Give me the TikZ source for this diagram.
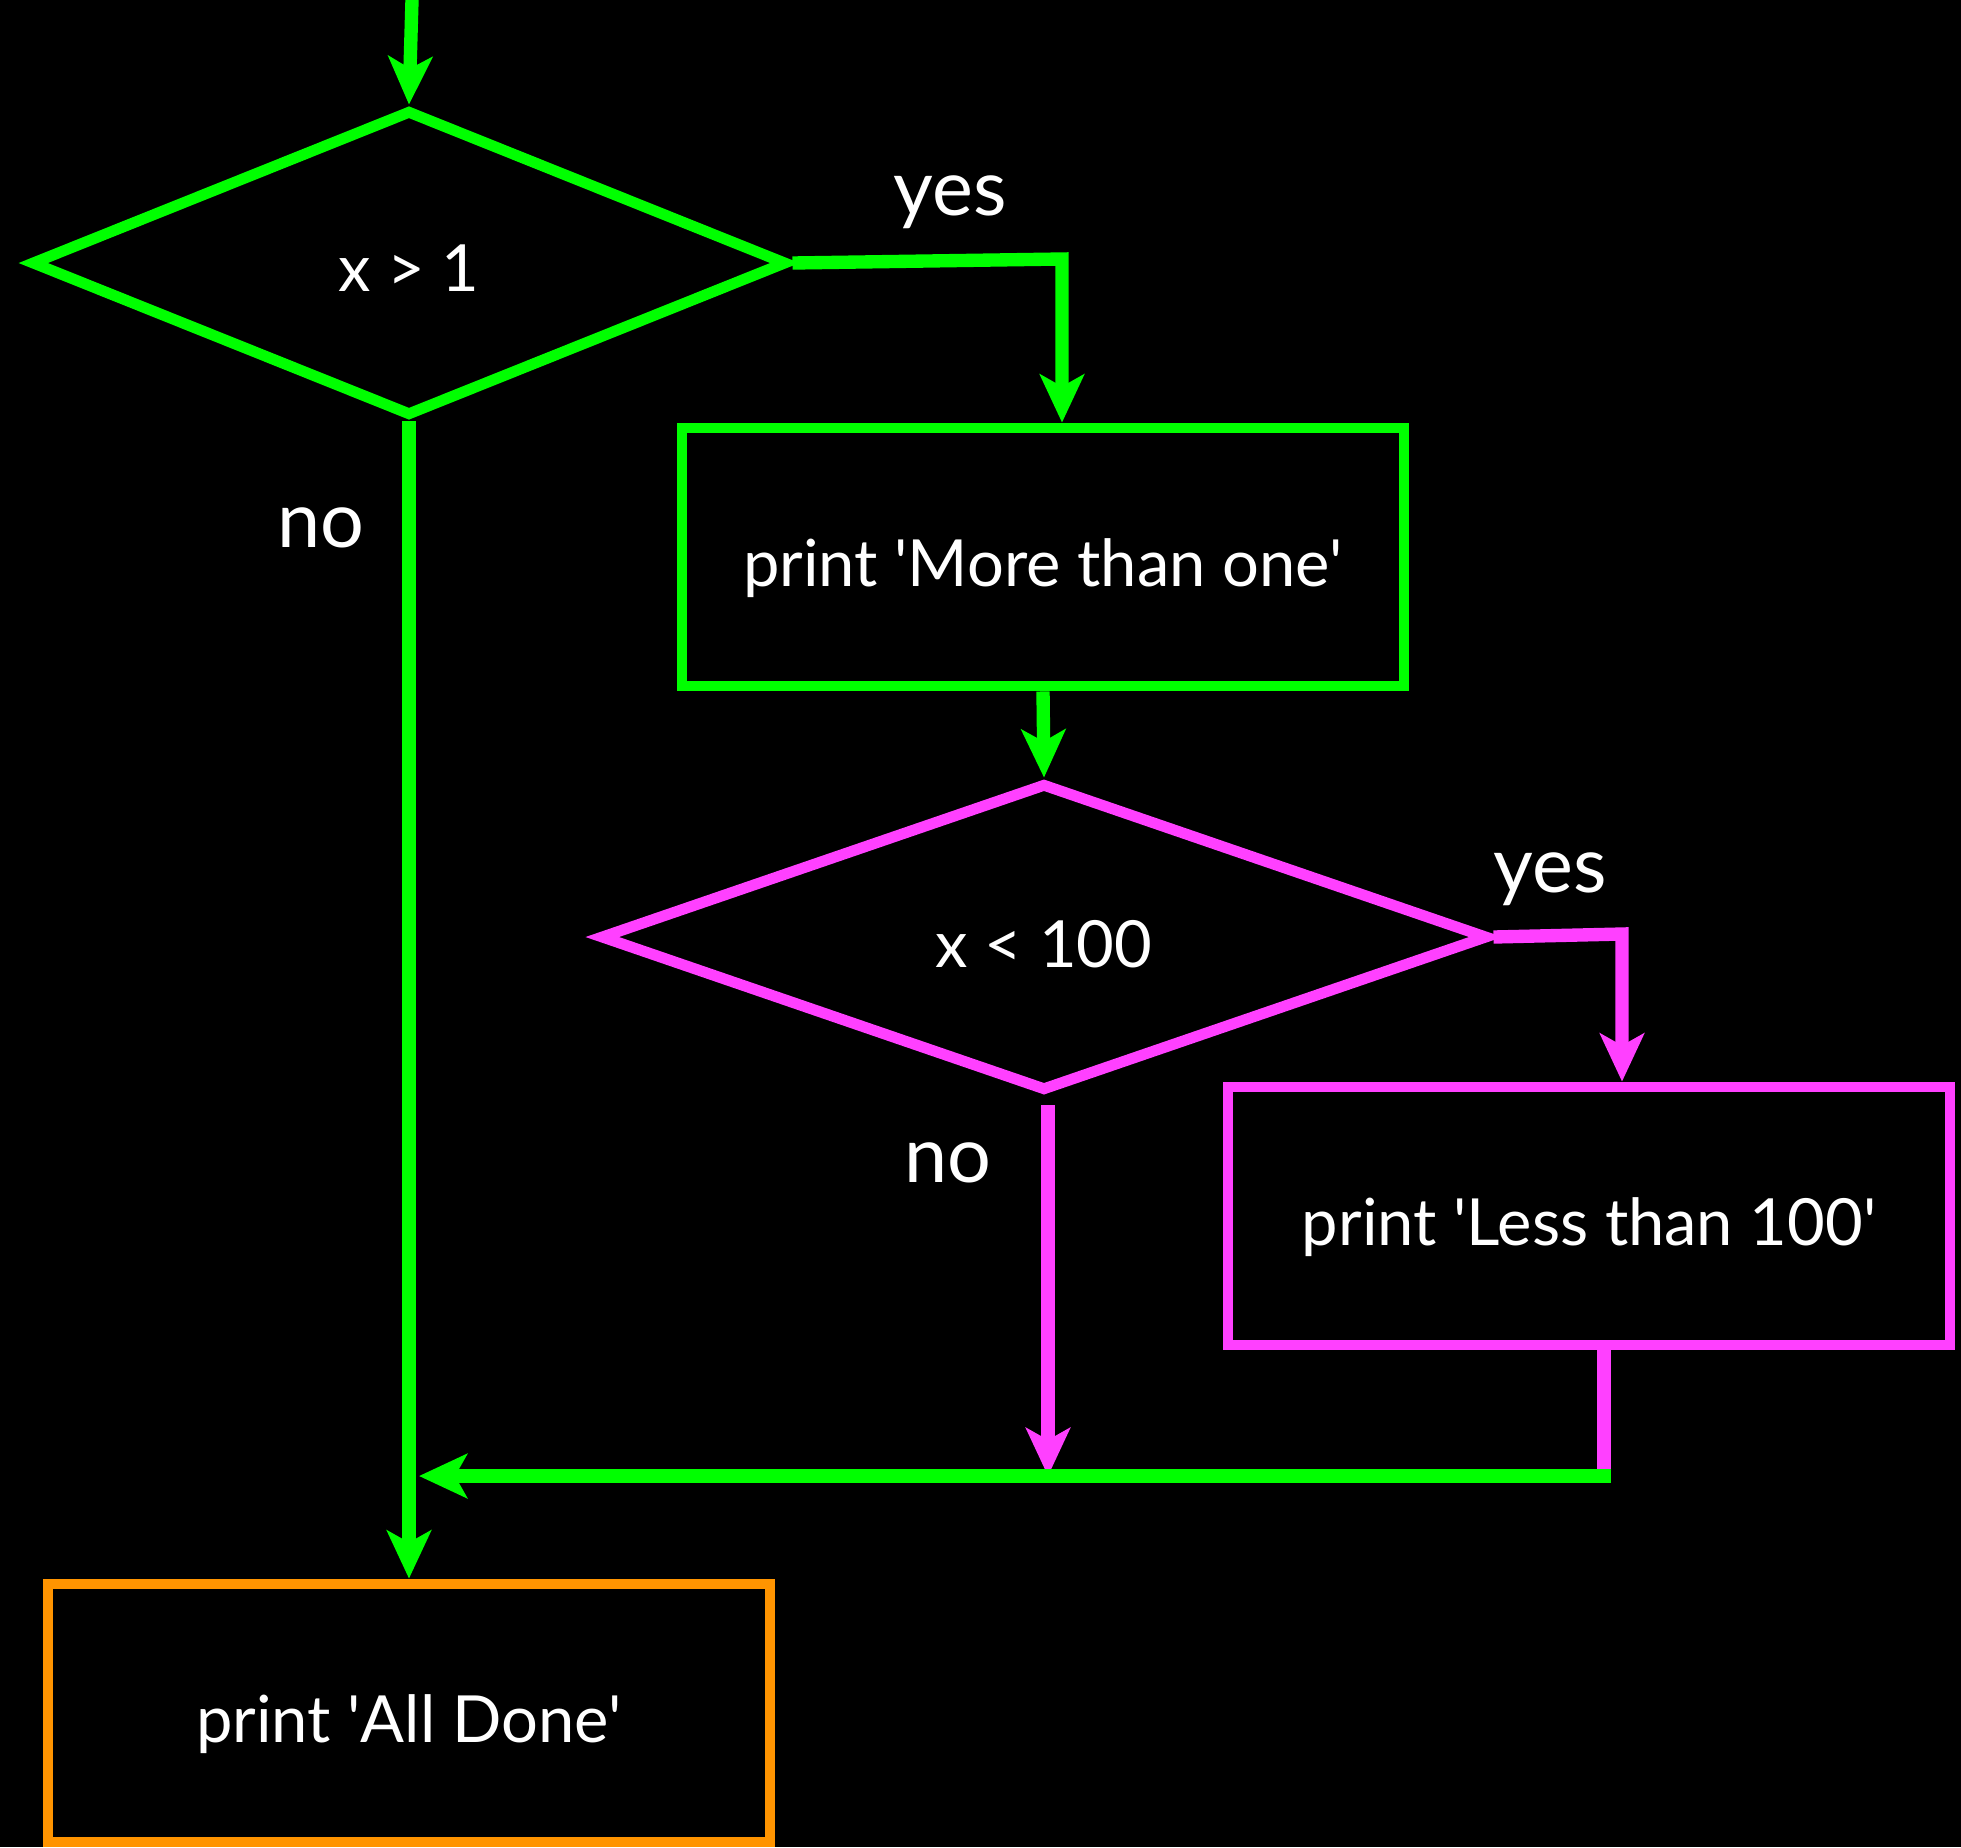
\documentclass[tikz,border=0pt]{standalone}
\usepackage{fontspec}
\setmainfont{Lato}
\usepackage{tikz}
\usetikzlibrary{shapes.geometric, arrows.meta}
\definecolor{flowgreen}{RGB}{0,255,0}
\definecolor{flowpink}{RGB}{255,64,255}
\definecolor{floworange}{RGB}{255,148,0}
\newcommand{\lowtext}[2]{\raisebox{-#1}[\height][\depth]{#2}}

\begin{document}
\begin{tikzpicture}[line width=3.8pt,
    every node/.style={text=white, font=\fontsize{18.5}{22}\selectfont},
    test/.style={diamond, draw, line width=3.1pt, inner sep=0pt, minimum width=#1},
    stepbox/.style={rectangle, draw, line width=3.1pt, minimum width=7.22cm, minimum height=2.58cm},
    lab/.style={font=\fontsize{22}{26}\selectfont},
    go/.style={-{Stealth[length=0.48cm, width=0.44cm, inset=0.12cm]}}]
         \fill [black] (0,0) rectangle (19.61,-18.47);
         \useasboundingbox (0,0) rectangle (19.61,-18.47);
         \coordinate (start) at (4.12,0);
         \node [test=7.56cm, minimum height=3.06cm, draw=flowgreen] (gt) at (4.09,-2.63) {\lowtext{0.05cm}{x > 1}};
         \node [stepbox, draw=flowgreen] (more) at (10.43,-5.57) {\lowtext{0.11cm}{print \textquotesingle More than one\textquotesingle}};
         \node [test=8.88cm, minimum height=3.08cm, draw=flowpink] (lt) at (10.44,-9.37) {\lowtext{0.07cm}{x < 100}};
         \node [stepbox, draw=flowpink] (less) at (15.89,-12.16) {\lowtext{0.11cm}{print \textquotesingle Less than 100\textquotesingle}};
         \node [stepbox, draw=floworange] (done) at (4.09,-17.13) {\lowtext{0.11cm}{print \textquotesingle All Done\textquotesingle}};
         \coordinate (yesgt) at (10.62,-2.59);
         \coordinate (yeslt) at (16.22,-9.34);
         \coordinate (join) at (16.04,-14.76);
         \coordinate (merge) at (4.19,-14.76);
         \draw [go, flowgreen] (start) -- (gt.north);
         \draw [go, flowgreen] (gt.east) -- (yesgt) -- (yesgt |- more.north);
         \draw [go, flowgreen] (more.south) -- (lt.north);
         \draw [go, flowgreen] (gt.south) -- (done.north);
         \draw [go, flowpink] (lt.east) -- (yeslt) -- (yeslt |- less.north);
         \draw [go, flowpink] ([shift={(0.04,-0.09)}]lt.south) -- ([xshift=0.04cm]lt.south |- join);
         \draw [flowpink] (less.south -| join) -- (join);
         \draw [go, flowgreen, line cap=rect] (join) -- (merge);
         \node [lab] (yesa) at (9.50,-2.02) {yes};
         \node [lab] (noa) at (3.21,-5.28) {no};
         \node [lab] (yesb) at (15.50,-8.79) {yes};
         \node [lab] (nob) at (9.48,-11.63) {no};
       \end{tikzpicture}
\end{document}
